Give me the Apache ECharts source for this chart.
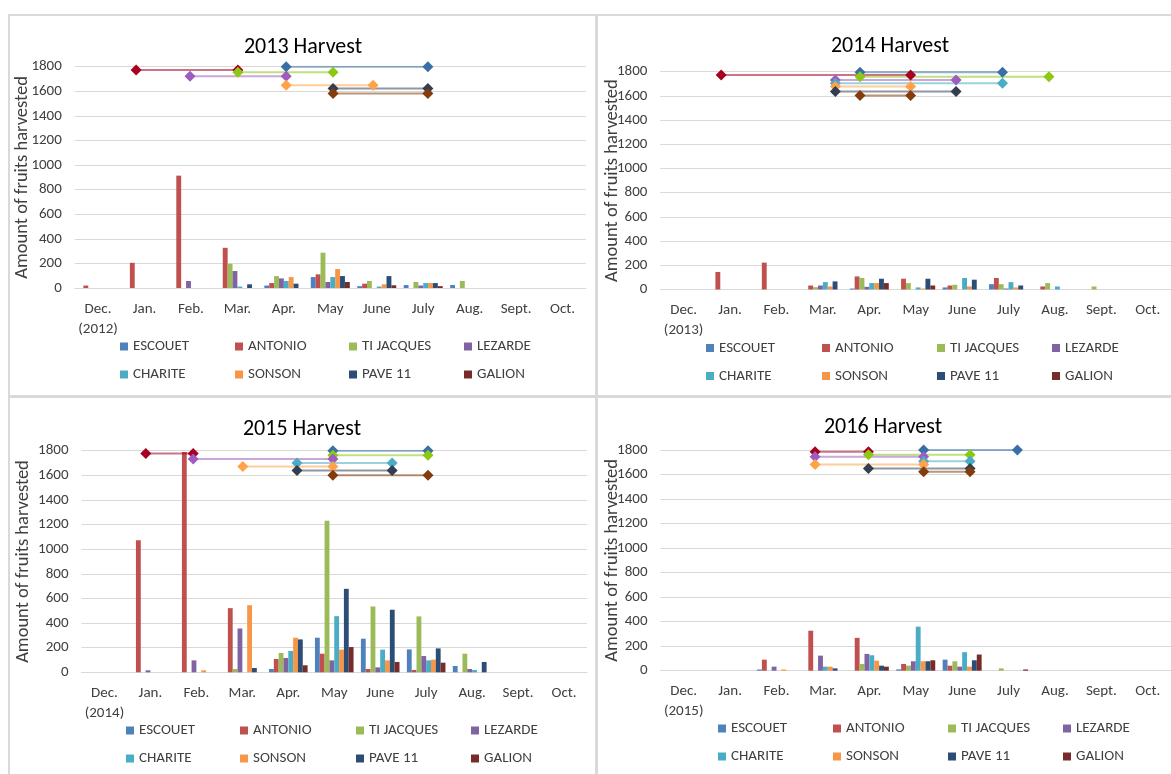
<!DOCTYPE html>
<html>
<head>
<meta charset="utf-8">
<title>Harvests 2013-2016</title>
<script src="https://cdn.jsdelivr.net/npm/echarts@6/dist/echarts.min.js"></script>
<style>
  html, body { margin: 0; padding: 0; background: #ffffff; overflow: hidden; }
  #chart { width: 1171px; height: 774px; }
</style>
</head>
<body>
<div id="chart"></div>
<script>
// ---- data ----
const months = ['Dec.', 'Jan.', 'Feb.', 'Mar.', 'Apr.', 'May', 'June', 'July', 'Aug.', 'Sept.', 'Oct.'];
const decYears = ['(2012)', '(2013)', '(2014)', '(2015)'];
const titles = ['2013 Harvest', '2014 Harvest', '2015 Harvest', '2016 Harvest'];
const sites = ['ESCOUET', 'ANTONIO', 'TI JACQUES', 'LEZARDE', 'CHARITE', 'SONSON', 'PAVE 11', 'GALION'];
const yTicks = [0, 200, 400, 600, 800, 1000, 1200, 1400, 1600, 1800];

// monthly fruit counts, one row per site (order of `sites`), Dec..Oct
const harvest2013 = [
  [0, 0, 0, 0, 20, 89, 15, 24, 24, 0, 0],
  [20, 205, 914, 327, 40, 111, 35, 0, 0, 0, 0],
  [0, 0, 0, 197, 97, 287, 57, 49, 57, 0, 0],
  [0, 0, 57, 138, 78, 49, 0, 20, 0, 0, 0],
  [0, 0, 0, 12, 57, 89, 12, 40, 0, 0, 0],
  [0, 0, 0, 0, 89, 154, 30, 40, 0, 0, 0],
  [0, 0, 0, 30, 35, 97, 97, 40, 0, 0, 0],
  [0, 0, 0, 0, 0, 49, 22, 15, 0, 0, 0]
];
const harvest2014 = [
  [0, 0, 0, 0, 8, 0, 17, 44, 0, 0, 0],
  [0, 145, 222, 33, 108, 89, 33, 95, 25, 0, 0],
  [0, 0, 0, 19, 95, 53, 39, 44, 53, 25, 0],
  [0, 0, 0, 33, 22, 0, 0, 8, 0, 0, 0],
  [0, 0, 0, 61, 53, 17, 95, 61, 25, 0, 0],
  [0, 0, 0, 25, 53, 8, 25, 17, 0, 0, 0],
  [0, 0, 0, 67, 89, 89, 81, 33, 0, 0, 0],
  [0, 0, 0, 0, 53, 33, 0, 0, 0, 0, 0]
];
const harvest2015 = [
  [0, 0, 0, 0, 27, 281, 273, 186, 51, 0, 0],
  [0, 1072, 1790, 521, 108, 151, 27, 19, 0, 0, 0],
  [0, 0, 0, 27, 157, 1231, 535, 454, 151, 0, 0],
  [0, 16, 97, 356, 116, 97, 40, 132, 27, 0, 0],
  [0, 0, 0, 0, 173, 456, 184, 97, 19, 0, 0],
  [0, 0, 16, 545, 281, 184, 97, 103, 0, 0, 0],
  [0, 0, 0, 35, 267, 678, 508, 194, 84, 0, 0],
  [0, 0, 0, 0, 57, 205, 84, 78, 0, 0, 0]
];
const harvest2016 = [
  [0, 0, 10, 0, 0, 11, 90, 0, 0, 0, 0],
  [0, 0, 90, 326, 268, 55, 41, 0, 0, 0, 0],
  [0, 0, 0, 0, 55, 41, 77, 19, 0, 0, 0],
  [0, 0, 33, 123, 137, 77, 33, 0, 0, 0, 0],
  [0, 0, 0, 33, 126, 359, 151, 0, 0, 0, 0],
  [0, 0, 10, 33, 82, 77, 33, 0, 0, 0, 0],
  [0, 0, 0, 19, 41, 77, 85, 0, 0, 0, 0],
  [0, 0, 0, 0, 33, 85, 132, 10, 0, 0, 0]
];

// harvest period per site: [start (month index, Dec = 0), end, plotted level]
const period2013 = [
  [4.05, 7.1, 1800], [0.82, 3.01, 1773], [3.01, 5.06, 1754], [1.98, 4.05, 1723],
  null, [4.05, 5.92, 1650], [5.06, 7.1, 1622], [5.06, 7.1, 1581]
];
const period2014 = [
  [3.8, 6.87, 1795], [0.81, 4.89, 1773], [3.8, 7.87, 1759], [3.27, 5.87, 1732],
  [3.27, 6.87, 1704], [3.27, 4.89, 1677], [3.27, 5.87, 1636], [3.8, 4.89, 1603]
];
const period2015 = [
  [4.97, 7.04, 1800], [0.9, 1.93, 1778], [4.97, 7.04, 1764], [1.93, 4.97, 1733],
  [4.19, 6.26, 1700], [3.01, 4.97, 1672], [4.19, 6.26, 1639], [4.97, 7.04, 1600]
];
const period2016 = [
  [5.17, 7.19, 1800], [2.83, 3.98, 1786], [3.98, 6.17, 1761], [2.83, 5.17, 1744],
  [5.17, 6.17, 1708], [2.83, 5.17, 1681], [3.98, 6.17, 1650], [5.17, 6.17, 1622]
];

const harvests = [harvest2013, harvest2014, harvest2015, harvest2016];
const periods = [period2013, period2014, period2015, period2016];

// ---- styles & layout ----
const FONT = 'Carlito, Lato, "Liberation Sans", sans-serif';
const TXT = '#404040';
const GRIDLINE = '#D9D9D9';
const barColors = ['#4F81BD', '#C0504D', '#9BBB59', '#8064A2', '#4BACC6', '#F79646', '#2C4D75', '#772C2A'];
const markColors = ['#3A6FA6', '#A50021', '#8CC814', '#9E5CC0', '#4BACC6', '#FFA24A', '#333F50', '#843C0C'];

const layout = [
  { box: [9, 15, 587, 381], grid: { left: 74.8, top: 66.7, width: 511, height: 221.3 }, titleX: 303, titleY: 36,
    nameGap: 43, legendX: [120, 235, 349, 464], legendY: [347, 375] },
  { box: [597, 15, 580, 381], grid: { left: 660.4, top: 71.7, width: 516, height: 217.8 }, titleX: 890, titleY: 35,
    nameGap: 39, legendX: [706, 822, 937, 1052], legendY: [348.5, 376.5] },
  { box: [9, 397, 587, 380], grid: { left: 81.5, top: 450.7, width: 505.5, height: 221.6 }, titleX: 302, titleY: 418,
    nameGap: 49, legendX: [126, 240, 356, 471], legendY: [731, 759] },
  { box: [597, 397, 580, 380], grid: { left: 660.5, top: 450, width: 517, height: 220.7 }, titleX: 883, titleY: 416,
    nameGap: 39, legendX: [718, 833, 948, 1063], legendY: [729, 757] }
];

const option = {
  animation: false,
  textStyle: { fontFamily: FONT },
  title: [], grid: [], xAxis: [], yAxis: [], legend: [], series: [],
  graphic: []
};

layout.forEach((L, p) => {
  option.graphic.push({
    type: 'rect', silent: true, z: -10,
    shape: { x: L.box[0], y: L.box[1], width: L.box[2], height: L.box[3] },
    style: { fill: '#ffffff', stroke: GRIDLINE, lineWidth: 2 }
  });

  option.title.push({
    text: titles[p], left: L.titleX, top: L.titleY, textAlign: 'center', padding: 0,
    textStyle: { fontFamily: FONT, fontSize: 22, fontWeight: 'normal', color: '#000000' }
  });

  option.grid.push(Object.assign({ containLabel: false }, L.grid));

  const labels = months.slice();
  labels[0] = months[0] + '\n' + decYears[p];

  option.xAxis.push({
    type: 'category', gridIndex: p, data: labels,
    axisLine: { lineStyle: { color: GRIDLINE, width: 1 } },
    axisTick: { show: false },
    axisLabel: { interval: 0, margin: 11, fontFamily: FONT, fontSize: 15, lineHeight: 20, color: TXT }
  });
  // hidden value axis lined up with category centres, used for the harvest periods
  option.xAxis.push({
    type: 'value', gridIndex: p, min: -0.5, max: 10.5, show: false
  });

  option.yAxis.push({
    type: 'value', gridIndex: p, min: yTicks[0], max: yTicks[yTicks.length - 1], interval: yTicks[1] - yTicks[0],
    name: 'Amount of fruits harvested', nameLocation: 'middle', nameGap: L.nameGap, nameMoveOverlap: false,
    nameTextStyle: { fontFamily: FONT, fontSize: 18.5, color: TXT },
    axisLine: { show: false }, axisTick: { show: false },
    axisLabel: { margin: 13, fontFamily: FONT, fontSize: 15, color: TXT, formatter: (v) => String(v) },
    splitLine: { lineStyle: { color: GRIDLINE, width: 1 } }
  });

  sites.forEach((s, i) => {
    option.legend.push({
      data: [s], left: L.legendX[i % 4], top: L.legendY[Math.floor(i / 4)] - 8,
      icon: 'rect', itemWidth: 8, itemHeight: 8, itemGap: 0, padding: 0, selectedMode: false,
      textStyle: { fontFamily: FONT, fontSize: 15, color: TXT }
    });

    option.series.push({
      type: 'bar', name: s, xAxisIndex: 2 * p, yAxisIndex: p,
      data: harvests[p][i],
      barGap: '0%', barCategoryGap: '16%',
      itemStyle: { color: barColors[i] },
      z: 2
    });
  });

  sites.forEach((s, i) => {
    const per = periods[p][i];
    if (!per) return;
    option.series.push({
      type: 'line', name: s + ' period', xAxisIndex: 2 * p + 1, yAxisIndex: p,
      data: [[per[0], per[2]], [per[1], per[2]]],
      symbol: 'diamond', symbolSize: 11, showSymbol: true,
      itemStyle: { color: markColors[i] },
      lineStyle: { color: markColors[i], width: 2, opacity: 0.55 },
      z: 5
    });
  });
});

const chart = echarts.init(document.getElementById('chart'), null, { renderer: 'canvas' });
chart.setOption(option);
</script>
</body>
</html>
